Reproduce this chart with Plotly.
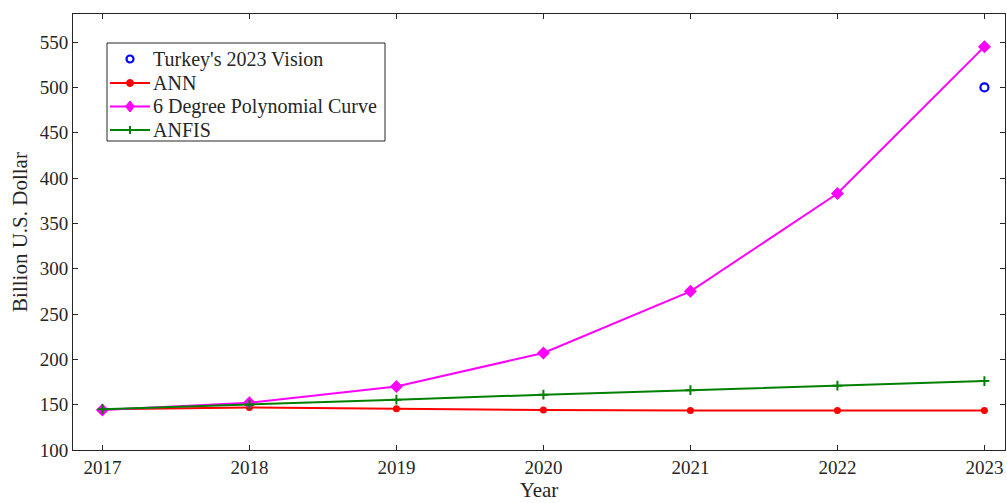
import plotly.graph_objects as go

years = [2017, 2018, 2019, 2020, 2021, 2022, 2023]
ann = [145, 147, 145.5, 144, 143.5, 143.5, 143.5]
poly = [144, 152, 170, 207, 275, 383, 545]
anfis = [145, 150, 155.5, 161, 166, 171, 176]
vision_year = [2023]
vision_val = [500]

legend_names = ["Turkey's 2023 Vision", "ANN", "6 Degree Polynomial Curve", "ANFIS"]
legend_colors = ["blue", "red", "magenta", "green"]
legend_kinds = ["circle-open", "dot", "diamond", "cross"]
legend_has_line = [False, True, True, True]

FONT = "Liberation Serif"
TC = "#262626"
W, H = 1007, 503
ML, MR, MT, MB = 73, 2, 14, 53
PW, PH = W - ML - MR, H - MT - MB

def px(x):
    return (x - ML) / PW

def py(y):
    return (H - MB - y) / PH

fig = go.Figure()
fig.add_trace(go.Scatter(x=vision_year, y=vision_val, mode="markers", name=legend_names[0],
                         marker=dict(symbol="circle-open", color="blue", size=8, line=dict(width=2.2))))
fig.add_trace(go.Scatter(x=years, y=ann, mode="lines+markers", name=legend_names[1],
                         line=dict(color="red", width=2), marker=dict(symbol="circle", size=7, color="red")))
fig.add_trace(go.Scatter(x=years, y=poly, mode="lines+markers", name=legend_names[2],
                         line=dict(color="magenta", width=2), marker=dict(symbol="diamond", size=10, color="magenta")))
fig.add_trace(go.Scatter(x=years, y=anfis, mode="lines+markers", name=legend_names[3],
                         line=dict(color="green", width=2), marker=dict(symbol="cross-thin", size=7, color="green", line=dict(width=2, color="green"))))

# manual legend (box, sample lines, markers, labels)
shapes = [dict(type="rect", xref="paper", yref="paper", x0=px(107), x1=px(385), y0=py(141), y1=py(43),
               line=dict(color=TC, width=1), fillcolor="white", layer="above")]
annotations = []
row_y = [59, 83, 106.5, 130]
for name, col, kind, has_line, ry in zip(legend_names, legend_colors, legend_kinds, legend_has_line, row_y):
    if has_line:
        shapes.append(dict(type="line", xref="paper", yref="paper", x0=px(110), x1=px(150), y0=py(ry), y1=py(ry),
                           line=dict(color=col, width=2)))
    common = dict(xref="paper", yref="paper", xsizemode="pixel", ysizemode="pixel", xanchor=px(130), yanchor=py(ry))
    if kind == "circle-open":
        shapes.append(dict(type="circle", x0=-3.5, x1=3.5, y0=-3.5, y1=3.5, line=dict(color=col, width=2.2), **common))
    elif kind == "dot":
        shapes.append(dict(type="circle", x0=-3.5, x1=3.5, y0=-3.5, y1=3.5, line=dict(color=col, width=1), fillcolor=col, **common))
    elif kind == "diamond":
        shapes.append(dict(type="path", path="M0,5.5 L4.5,0 L0,-5.5 L-4.5,0 Z", line=dict(color=col, width=1), fillcolor=col, **common))
    else:
        shapes.append(dict(type="path", path="M-4,0 L4,0 M0,-4 L0,4", line=dict(color=col, width=2), **common))
    annotations.append(dict(xref="paper", yref="paper", x=px(151), y=py(ry), xanchor="left", yanchor="middle",
                            text=name, showarrow=False, font=dict(family=FONT, size=20, color=TC)))

axis_common = dict(showline=True, linecolor=TC, linewidth=1, mirror="ticks", ticks="inside",
                   ticklen=5, tickcolor=TC, showgrid=False, zeroline=False, automargin=False,
                   tickfont=dict(family=FONT, size=19, color=TC))
fig.update_xaxes(range=[2016.8, 2023.14], tickvals=years, ticktext=[str(y) for y in years],
                 title=dict(text="Year", font=dict(family=FONT, size=21, color=TC), standoff=3),
                 **axis_common)
fig.update_yaxes(range=[100, 581], tickvals=list(range(100, 551, 50)),
                 title=dict(text="Billion U.S. Dollar", font=dict(family=FONT, size=21, color=TC), standoff=6),
                 **axis_common)
fig.update_layout(
    width=W, height=H, margin=dict(l=ML, r=MR, t=MT, b=MB),
    plot_bgcolor="white", paper_bgcolor="white",
    font=dict(family=FONT, size=19, color=TC),
    showlegend=False, shapes=shapes, annotations=annotations,
)
fig.write_html("out.html", config={"displayModeBar": False},
               post_script="document.body.style.margin='0';document.body.style.overflow='hidden';")
